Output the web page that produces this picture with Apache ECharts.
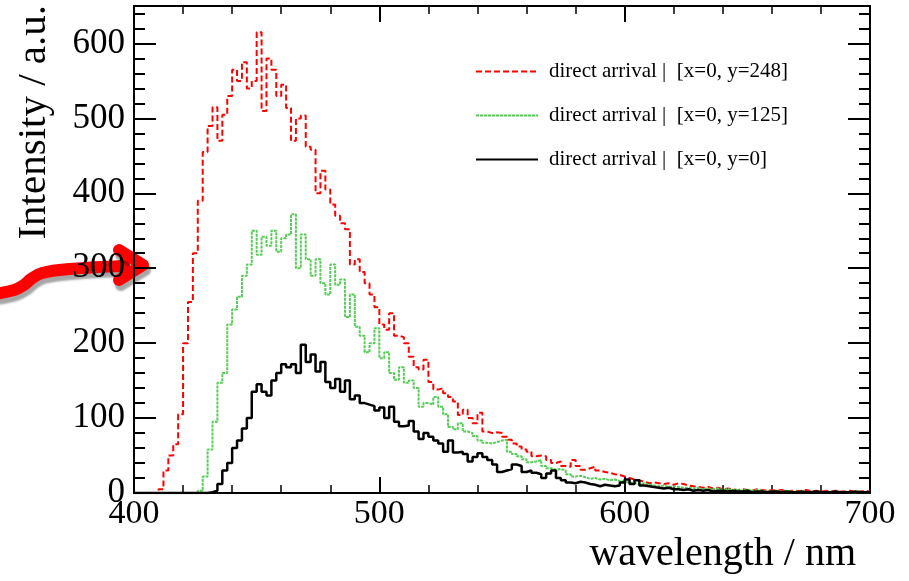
<!DOCTYPE html>
<html>
<head>
<meta charset="utf-8">
<script src="https://cdn.jsdelivr.net/npm/echarts@6/dist/echarts.min.js"></script>
<style>
html,body{margin:0;padding:0;background:#fff;}
#chart{width:909px;height:581px;}
</style>
</head>
<body>
<div id="chart"></div>
<script>
// wavelength bins (nm): left edges, 2 nm wide
const binStart = 400;
const binWidth = 2;
const xTicks = [400, 500, 600, 700];
const seriesNames = [
  'direct arrival |  [x=0, y=248]',
  'direct arrival |  [x=0, y=125]',
  'direct arrival |  [x=0, y=0]'
];
const redValues = [
  0,0,0,0,0,5,30,50,65,105,
  200,255,320,390,455,490,515,470,505,530,
  565,550,575,540,550,615,510,580,565,530,
  545,514,470,500,504,462,458,400,430,405,
  385,370,360,352,305,312,295,280,265,248,
  225,218,240,210,208,200,182,168,165,178,
  148,138,140,133,128,122,104,111,100,93,
  107,82,80,81,80,75,71,66,62,58,
  55,49,50,49,44,40,42,36,35,44,
  36,31,33,35,30,28,27,25,24,22,
  20,18,17,15,13,14,13,12,13,11,
  13,12,10,9,8,7,8,6,7,5,
  6,5,4,5,4,3,5,4,3,4,
  3,4,2,3,3,2,4,2,3,2,
  3,2,3,2,2,3,1,2,3,2
];
const greenValues = [
  0,0,0,0,0,0,0,0,0,0,
  0,0,0,3,22,58,95,147,160,225,
  245,262,290,305,350,318,342,330,350,322,
  340,345,372,300,345,312,290,312,280,265,
  305,278,285,235,265,222,210,188,200,220,
  180,188,160,151,168,147,150,140,115,120,
  118,128,115,105,88,85,93,82,80,76,
  70,67,66,68,70,71,55,52,49,45,
  41,42,44,36,33,31,32,30,25,22,
  23,21,19,20,18,19,17,18,16,15,
  14,13,12,13,11,10,9,10,8,9,
  8,7,7,6,7,5,6,5,6,4,
  5,4,4,3,5,3,4,3,2,3,
  3,2,3,2,2,3,1,2,2,1,
  2,1,2,1,2,1,1,2,1,1
];
const blackValues = [
  0,0,0,0,0,0,0,0,0,0,
  0,0,0,0,0,1,3,12,30,40,
  60,70,86,100,135,145,135,130,150,160,
  172,168,172,160,198,175,185,162,175,148,
  140,152,135,150,125,130,120,118,116,110,
  114,100,115,95,89,90,96,82,72,80,
  75,70,66,55,70,54,55,52,42,48,
  53,48,44,38,28,30,32,38,36,28,
  30,27,25,20,26,30,20,17,14,13,
  15,14,12,11,9,11,10,9,10,14,
  18,12,17,10,9,8,7,6,7,5,
  5,4,5,3,4,3,4,2,3,3,
  2,3,2,2,3,1,2,2,1,2,
  2,1,2,1,1,2,1,1,2,1,
  1,1,2,1,1,1,2,1,1,1
];

function toSteps(vals) {
  const d = vals.map((v, i) => [binStart + i * binWidth, v]);
  d.push([binStart + vals.length * binWidth, vals[vals.length - 1]]);
  return d;
}

const FONT = '"Liberation Serif", "Times New Roman", serif';
const axisLineStyle = { color: '#000', width: 2 };

function xAxisDef(pos, showLabel) {
  return {
    type: 'value', position: pos, min: 400, max: 700, interval: 100,
    axisLine: { show: true, onZero: false, lineStyle: axisLineStyle },
    axisTick: { show: true, inside: true, length: 16, lineStyle: { color: '#000', width: 2 } },
    minorTick: { show: true, splitNumber: 5, length: 8, lineStyle: { color: '#000', width: 1.5 } },
    axisLabel: { show: showLabel, fontFamily: FONT, fontSize: 34, color: '#000', margin: 4,
      formatter: v => xTicks.indexOf(v) >= 0 ? String(v) : '' },
    splitLine: { show: false }, minorSplitLine: { show: false }
  };
}
function yAxisDef(pos, interval, tickLen, showLabel, showLine) {
  return {
    type: 'value', position: pos, min: 0, max: 650, interval: interval,
    axisLine: { show: showLine, onZero: false, lineStyle: axisLineStyle },
    axisTick: { show: true, inside: true, length: tickLen, lineStyle: { color: '#000', width: 2 } },
    axisLabel: { show: showLabel, fontFamily: FONT, fontSize: 35, color: '#000', margin: 9,
      formatter: v => (v % 100 === 0 && v <= 600) ? String(v) : '' },
    splitLine: { show: false }
  };
}

const chart = echarts.init(document.getElementById('chart'), null, { renderer: 'canvas' });
chart.setOption({
  animation: false,
  backgroundColor: '#fff',
  grid: { left: 134, right: 39, top: 6, bottom: 88, containLabel: false },
  xAxis: [xAxisDef('bottom', true), xAxisDef('top', false)],
  yAxis: [
    yAxisDef('left', 100, 22, true, true),
    yAxisDef('left', 20, 11, false, false),
    yAxisDef('right', 100, 22, false, true),
    yAxisDef('right', 20, 11, false, false)
  ],
  legend: {
    orient: 'vertical', left: 475, top: 61, padding: 0,
    itemWidth: 62, itemHeight: 20, itemGap: 23,
    itemStyle: { opacity: 0 },
    textStyle: { fontFamily: FONT, fontSize: 21, color: '#000', lineHeight: 20, padding: [0, 0, 0, 6] },
    data: seriesNames
  },
  series: [
    { name: seriesNames[0], type: 'line', step: 'end', symbol: 'none', xAxisIndex: 0, yAxisIndex: 0,
      lineStyle: { color: '#ff0000', width: 2, type: [6, 3] }, itemStyle: { color: '#ff0000' },
      data: toSteps(redValues) },
    { name: seriesNames[1], type: 'line', step: 'end', symbol: 'none', xAxisIndex: 0, yAxisIndex: 0,
      lineStyle: { color: '#55cc55', width: 2, type: [3, 1] }, itemStyle: { color: '#55cc55' },
      data: toSteps(greenValues) },
    { name: seriesNames[2], type: 'line', step: 'end', symbol: 'none', xAxisIndex: 0, yAxisIndex: 0,
      lineStyle: { color: '#000000', width: 2.5 }, itemStyle: { color: '#000000' },
      data: toSteps(blackValues) }
  ],
  graphic: [
    { type: 'text', right: 909 - 856, top: 534,
      style: { text: 'wavelength / nm', font: '40px ' + FONT, fill: '#000' } },
    { type: 'text', x: 34, y: 5, rotation: Math.PI / 2,
      style: { text: 'Intensity / a.u.', font: '41px ' + FONT, fill: '#000',
        textAlign: 'right', textVerticalAlign: 'middle' } },
    { type: 'group', z: 100, children: [
      { type: 'polyline', shape: { points: [[-6, 294], [14, 290], [24, 285], [31, 279], [42, 273], [70, 269], [124, 266]], smooth: 0.4 },
        style: { stroke: '#ff0000', lineWidth: 12, fill: null, lineCap: 'round', lineJoin: 'round',
          shadowColor: 'rgba(0,0,0,0.35)', shadowOffsetX: 2, shadowOffsetY: 5, shadowBlur: 2 } },
      { type: 'polyline', shape: { points: [[119, 250], [143, 265], [119, 280]] },
        style: { stroke: '#ff0000', lineWidth: 12, fill: null, lineCap: 'round', lineJoin: 'round',
          shadowColor: 'rgba(0,0,0,0.35)', shadowOffsetX: 2, shadowOffsetY: 5, shadowBlur: 2 } }
    ] }
  ]
});
</script>
</body>
</html>
